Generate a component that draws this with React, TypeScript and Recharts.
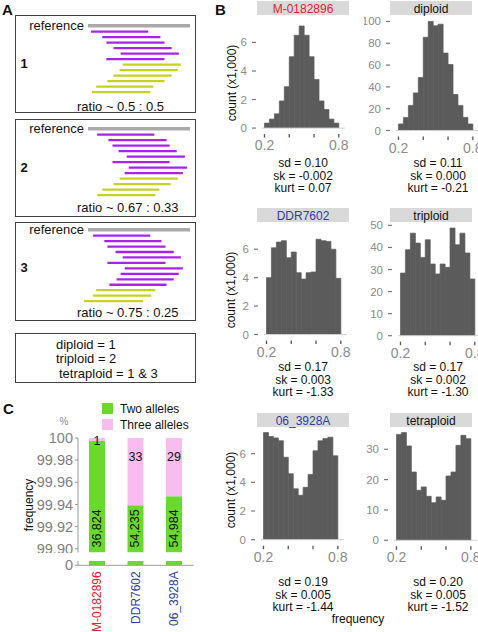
import React from "react";
import { BarChart, Bar, XAxis, YAxis, Cell, ReferenceLine, LabelList } from "recharts";

const FONT = '"Liberation Sans", Arial, Helvetica, sans-serif';

// ---- panel A: reads along the reference (reference = 0..100)
const REF_SPAN: [number, number] = [0, 100];
const READS1_ALT = [[3, 59], [14, 71], [18, 75], [25, 82], [32, 89], [18, 75]];
const READS1_REF = [[34, 91], [31, 88], [25, 82], [19, 75], [8, 64], [4, 61]];
const READS2_ALT = [[9, 65], [20, 77], [24, 80], [30, 87], [38, 95], [24, 80], [40, 97], [36, 93]];
const READS2_REF = [[31, 88], [25, 81], [14, 70], [9, 66]];
const READS3_ALT = [[5, 61], [16, 72], [19, 76], [27, 84], [34, 91], [19, 76], [36, 93], [32, 89], [28, 84], [21, 77]];
const READS3_REF = [[8, 66], [5, 62], [-4, 54]];
const RATIOS = ["ratio ~ 0.5 : 0.5", "ratio ~ 0.67 : 0.33", "ratio ~ 0.75 : 0.25"];
const PLOIDY = ["diploid = 1", "triploid = 2", "tetraploid = 1 & 3"];

// ---- panel B: histograms, 15 bins between 0.2 and 0.8
const BIN_CENTERS = [0.22, 0.26, 0.3, 0.34, 0.38, 0.42, 0.46, 0.5, 0.54, 0.58, 0.62, 0.66, 0.7, 0.74, 0.78];
const M0182896 = [0.35, 0.63, 1.0, 1.9, 2.9, 5.0, 6.5, 7.15, 6.5, 5.0, 3.4, 1.9, 1.3, 0.63, 0.35];
const DIPLOID = [6, 12, 23, 34.5, 48.5, 85.5, 100, 96, 97.5, 71, 60.5, 33, 23, 12, 6];
const DDR7602 = [4.0, 6.1, 6.5, 6.6, 5.4, 5.8, 4.35, 3.9, 4.35, 4.4, 6.7, 6.6, 6.55, 6.0, 3.95];
const TRIPLOID = [28.4, 39, 46.5, 42, 35.5, 43.5, 32.5, 28, 32.5, 31, 48.8, 41.2, 46.5, 37.5, 25.7];
const S06_3928A = [7.47, 7.2, 7.1, 6.9, 5.75, 4.6, 3.55, 3.1, 3.65, 4.55, 6.2, 6.9, 7.05, 7.15, 5.85];
const TETRAPLOID = [34.9, 35.5, 31.1, 22.5, 16.5, 17.6, 14.5, 12.4, 14.3, 13.2, 21.2, 22.5, 31.3, 34.6, 33.5];
const HIST_TITLES = ["M-0182896", "diploid", "DDR7602", "triploid", "06_3928A", "tetraploid"];
const TITLE_COLORS = ["#e3222e", "#111", "#2d3f9f", "#111", "#2d3f9f", "#111"];
const SD = ["0.10", "0.11", "0.17", "0.17", "0.19", "0.20"];
const SK = ["-0.002", "0.000", "0.003", "0.002", "0.005", "0.005"];
const KURT = ["0.07", "-0.21", "-1.33", "-1.30", "-1.44", "-1.52"];

// ---- panel C
const SAMPLES = ["M-0182896", "DDR7602", "06_3928A"];
const TWO_ALLELES = [36824, 54235, 54984];
const THREE_ALLELES = [1, 33, 29];
const SAMPLE_COLORS = ["#e3222e", "#2d3f9f", "#2d3f9f"];
const FREQ_TICKS = [99.9, 99.92, 99.94, 99.96, 99.98, 100];

const MAGENTA = "#a823ea";
const OLIVE = "#c6d21e";
const GREEN = "#6bd82e";
const PINK = "#f7bdef";
const HIST_FILL = "#5b5b5b";

function Txt({ x, y, children, size = 12, color = "#111", anchor = "middle", rotate = false, weight = 400 }: any) {
  const tx = anchor === "start" ? "0" : anchor === "end" ? "-100%" : "-50%";
  return (
    <div
      style={{
        position: "absolute",
        left: x,
        top: y,
        transform: `translate(${tx}, -50%)${rotate ? " rotate(-90deg)" : ""}`,
        fontSize: size,
        color,
        fontWeight: weight,
        whiteSpace: "nowrap",
        lineHeight: 1,
      }}
    >
      {children}
    </div>
  );
}

function Box({ x, y, w, h }: any) {
  return (
    <div
      style={{
        position: "absolute",
        left: x,
        top: y,
        width: w,
        height: h,
        border: "1.5px solid #404040",
        boxSizing: "border-box",
      }}
    />
  );
}

function ReadChart({ alt, refReads, top, band }: any) {
  const rows = [
    { id: "reference", span: null, kind: "ref" },
    ...alt.map((s: number[], i: number) => ({ id: `a${i}`, span: s, kind: "alt" })),
    ...refReads.map((s: number[], i: number) => ({ id: `r${i}`, span: s, kind: "ref" })),
  ];
  const h = rows.length * band;
  const padTop = 8;
  return (
    <div style={{ position: "absolute", left: 15, top: top - padTop }}>
      <BarChart
        width={185.2}
        height={h + padTop}
        data={rows}
        layout="vertical"
        margin={{ top: padTop, right: 0, bottom: 0, left: 62.8 }}
        barCategoryGap={0}
      >
        <XAxis type="number" domain={[-10, 110]} hide />
        <YAxis type="category" dataKey="id" hide />
        <ReferenceLine
          segment={[
            { x: REF_SPAN[0], y: "reference" },
            { x: REF_SPAN[1], y: "reference" },
          ]}
          stroke="#a9a9a9"
          strokeWidth={3.3}
          label={{ value: "reference", position: "left", offset: 4, fill: "#111", fontSize: 13 }}
        />
        <Bar dataKey="span" barSize={2.3} isAnimationActive={false}>
          {rows.map((r, i) => (
            <Cell key={i} fill={r.kind === "alt" ? MAGENTA : OLIVE} />
          ))}
        </Bar>
      </BarChart>
    </div>
  );
}

const FreqTick = (p: any) => {
  const { x, y, payload } = p;
  const v = payload.value;
  return (
    <g>
      <line x1={x} x2={x} y1={y + 6} y2={y + 9.5} stroke="#555" strokeWidth={1.3} />
      {(v === 0.2 || v === 0.8) && (
        <text x={x} y={y + 17} textAnchor="middle" dominantBaseline="central" fontSize={14} fill="#8a8a8a">
          {String(v)}
        </text>
      )}
    </g>
  );
};

const CountTick = (p: any) => {
  const { x, y, payload } = p;
  return (
    <g>
      <text x={x - 15} y={y} textAnchor="end" dominantBaseline="central" fontSize={11.5} fill="#8a8a8a">
        {payload.value}
      </text>
      <line x1={x - 10} x2={x - 6} y1={y} y2={y} stroke="#777" strokeWidth={1.2} />
    </g>
  );
};

function Hist({ counts, plotLeft, plotTop, zeroY, yMax, yTicks }: any) {
  const yAxisW = 32;
  const xAxisH = 28;
  const plotW = 83;
  const padTop = 7;
  const plotH = zeroY - plotTop;
  const data = BIN_CENTERS.map((f, i) => ({ f, count: counts[i] }));
  return (
    <div style={{ position: "absolute", left: plotLeft - yAxisW, top: plotTop - padTop }}>
      <BarChart
        width={yAxisW + plotW + 14}
        height={padTop + plotH + xAxisH}
        data={data}
        margin={{ top: padTop, right: 14, bottom: 0, left: 0 }}
        barCategoryGap={0}
        barGap={0}
      >
        <XAxis
          dataKey="f"
          type="number"
          domain={[0.18, 0.85]}
          ticks={[0.2, 0.4, 0.6, 0.8]}
          interval={0}
          height={xAxisH}
          axisLine={{ stroke: "#d0d0d0" }}
          tickLine={false}
          tickSize={0}
          tickMargin={0}
          tick={FreqTick}
          allowDataOverflow
        />
        <YAxis
          type="number"
          domain={[0, yMax]}
          ticks={yTicks}
          interval={0}
          width={yAxisW}
          axisLine={false}
          tickLine={false}
          tickSize={0}
          tickMargin={0}
          tick={CountTick}
          allowDataOverflow
        />
        <Bar
          dataKey="count"
          fill={HIST_FILL}
          stroke={HIST_FILL}
          strokeWidth={0.7}
          isAnimationActive={false}
        />
      </BarChart>
    </div>
  );
}

const HIST_DATA = [M0182896, DIPLOID, DDR7602, TRIPLOID, S06_3928A, TETRAPLOID];
const HIST_LAYOUT = [
  { plotLeft: 261.8, plotTop: 20.6, zeroY: 127.7, yMax: 7.5, yTicks: [0, 2, 4, 6] },
  { plotLeft: 395.8, plotTop: 15.5, zeroY: 130, yMax: 105, yTicks: [0, 20, 40, 60, 80, 100] },
  { plotLeft: 264.2, plotTop: 234.5, zeroY: 334, yMax: 7, yTicks: [0, 2, 4, 6] },
  { plotLeft: 397.5, plotTop: 221.3, zeroY: 336, yMax: 52, yTicks: [0, 10, 20, 30, 40, 50] },
  { plotLeft: 260.8, plotTop: 424.6, zeroY: 539.3, yMax: 8, yTicks: [0, 2, 4, 6] },
  { plotLeft: 393.5, plotTop: 424.7, zeroY: 540, yMax: 38, yTicks: [0, 10, 20, 30] },
];
const TITLE_ROWS = [1, 208, 413];
const STAT_ROWS = [163, 367, 582];
const COL_X = [257, 390];
const COL_W = [92, 82];
const STAT_X = [303, 438];

const UPPER_PLOT_H = 114.4;

function AlleleLabel(p: any) {
  const { x, width, value } = p;
  const cx = x + width / 2;
  const cy = 10 + UPPER_PLOT_H - 24;
  return (
    <text
      transform={`translate(${cx},${cy}) rotate(-90)`}
      textAnchor="middle"
      dominantBaseline="central"
      fontSize={12.5}
      fill="#111"
    >
      {value.toLocaleString("en-US")}
    </text>
  );
}

function ThreeLabel(p: any) {
  const { x, y, width, height, value } = p;
  return (
    <text
      x={x + width / 2}
      y={y + Math.min(19, Math.abs(height))}
      textAnchor="middle"
      dominantBaseline="central"
      fontSize={12.5}
      fill="#111"
    >
      {value}
    </text>
  );
}

const SampleTick = (p: any) => {
  const { x, y, payload, index } = p;
  return (
    <text
      transform={`translate(${x},${y + 6}) rotate(-90)`}
      textAnchor="end"
      dominantBaseline="central"
      fontSize={12}
      fill={SAMPLE_COLORS[index]}
    >
      {payload.value}
    </text>
  );
};

export default function App() {
  const alleleData = SAMPLES.map((name, i) => {
    const tot = TWO_ALLELES[i] + THREE_ALLELES[i];
    return {
      name,
      two: (TWO_ALLELES[i] / tot) * 100,
      three: (THREE_ALLELES[i] / tot) * 100,
      twoN: TWO_ALLELES[i],
      threeN: THREE_ALLELES[i],
    };
  });

  return (
    <div
      style={{
        position: "absolute",
        left: 0,
        top: 0,
        width: 478,
        height: 632,
        overflow: "hidden",
        background: "#fff",
        fontFamily: FONT,
        color: "#111",
      }}
    >
      {/* panel letters */}
      <Txt x={2} y={8.5} size={15} weight={700} anchor="start">A</Txt>
      <Txt x={215} y={8.5} size={15} weight={700} anchor="start">B</Txt>
      <Txt x={3} y={408} size={15} weight={700} anchor="start">C</Txt>

      {/* panel A */}
      <Box x={15} y={15} w={181} h={98} />
      <Box x={15} y={119} w={181} h={98} />
      <Box x={15} y={222} w={181} h={99} />
      <Box x={15} y={333} w={181} h={50} />
      <ReadChart alt={READS1_ALT} refReads={READS1_REF} top={23.25} band={5.5} />
      <ReadChart alt={READS2_ALT} refReads={READS2_REF} top={125.55} band={5.5} />
      <ReadChart alt={READS3_ALT} refReads={READS3_REF} top={227.27} band={5.46} />
      <Txt x={24} y={63} size={13} weight={700}>1</Txt>
      <Txt x={24} y={167} size={13} weight={700}>2</Txt>
      <Txt x={24} y={267} size={13} weight={700}>3</Txt>
      <Txt x={77} y={106} size={13} anchor="start">{RATIOS[0]}</Txt>
      <Txt x={77} y={207.3} size={13} anchor="start">{RATIOS[1]}</Txt>
      <Txt x={77} y={312.3} size={13} anchor="start">{RATIOS[2]}</Txt>
      <Txt x={56} y={344} size={13} anchor="start">{PLOIDY[0]}</Txt>
      <Txt x={56} y={358.3} size={13} anchor="start">{PLOIDY[1]}</Txt>
      <Txt x={59} y={372.7} size={13} anchor="start">{PLOIDY[2]}</Txt>

      {/* panel B */}
      {HIST_TITLES.map((t, i) => {
        const col = i % 2;
        const row = Math.floor(i / 2);
        return (
          <React.Fragment key={t}>
            <div
              style={{
                position: "absolute",
                left: COL_X[col],
                top: TITLE_ROWS[row],
                width: COL_W[col],
                height: 14,
                background: "#d9d9d9",
              }}
            />
            <Txt x={COL_X[col] + COL_W[col] / 2} y={TITLE_ROWS[row] + 7.5} size={12} color={TITLE_COLORS[i]}>
              {t}
            </Txt>
            <Txt x={STAT_X[col]} y={STAT_ROWS[row]} size={12}>{`sd = ${SD[i]}`}</Txt>
            <Txt x={STAT_X[col]} y={STAT_ROWS[row] + 12.5} size={12}>{`sk = ${SK[i]}`}</Txt>
            <Txt x={STAT_X[col]} y={STAT_ROWS[row] + 25} size={12}>{`kurt = ${KURT[i]}`}</Txt>
          </React.Fragment>
        );
      })}
      {HIST_DATA.map((d, i) => (
        <Hist key={i} counts={d} {...HIST_LAYOUT[i]} />
      ))}
      <Txt x={232} y={83} size={12} rotate>count (x1,000)</Txt>
      <Txt x={231} y={290} size={12} rotate>count (x1,000)</Txt>
      <Txt x={231} y={490} size={12} rotate>count (x1,000)</Txt>
      <Txt x={358} y={619} size={12}>frequency</Txt>

      {/* panel C */}
      <div style={{ position: "absolute", left: 102, top: 403, width: 11, height: 11, background: GREEN }} />
      <div style={{ position: "absolute", left: 102, top: 419, width: 11, height: 11, background: PINK }} />
      <Txt x={120} y={408.5} size={12} anchor="start">Two alleles</Txt>
      <Txt x={120} y={424.5} size={12} anchor="start">Three alleles</Txt>
      <Txt x={64} y={422} size={10} color="#888">%</Txt>
      <Txt x={29} y={505} size={12} rotate>frequency</Txt>

      <div style={{ position: "absolute", left: 17.75, top: 428.3 }}>
        <BarChart
          width={182.25}
          height={10 + UPPER_PLOT_H}
          data={alleleData}
          margin={{ top: 10, right: 6.75, bottom: 0, left: 0 }}
          barCategoryGap={0}
        >
          <XAxis dataKey="name" type="category" hide />
          <YAxis
            type="number"
            domain={[99.8967, 100]}
            ticks={FREQ_TICKS}
            interval={0}
            allowDataOverflow
            width={60}
            axisLine={{ stroke: "#9a9a9a" }}
            tickLine={{ stroke: "#9a9a9a" }}
            tickSize={3}
            tickMargin={2}
            tick={{ fill: "#808080", fontSize: 14.5 }}
            tickFormatter={(v: number) => (v === 100 ? "100" : v.toFixed(2))}
          />
          <Bar dataKey="two" stackId="a" fill={GREEN} barSize={16} isAnimationActive={false}>
            <LabelList dataKey="twoN" content={AlleleLabel} />
          </Bar>
          <Bar dataKey="three" stackId="a" fill={PINK} barSize={16} isAnimationActive={false}>
            <LabelList dataKey="threeN" content={ThreeLabel} />
          </Bar>
        </BarChart>
      </div>

      <div style={{ position: "absolute", left: 17.75, top: 554.7 }}>
        <BarChart
          width={182.25}
          height={6 + 4.3 + 72}
          data={alleleData}
          margin={{ top: 6, right: 6.75, bottom: 0, left: 0 }}
          barCategoryGap={0}
        >
          <XAxis
            dataKey="name"
            type="category"
            height={72}
            interval={0}
            axisLine={{ stroke: "#9a9a9a" }}
            tickLine={false}
            tickSize={0}
            tickMargin={0}
            tick={SampleTick}
          />
          <YAxis
            type="number"
            domain={[0, 1]}
            ticks={[0]}
            allowDataOverflow
            width={60}
            axisLine={{ stroke: "#9a9a9a" }}
            tickLine={{ stroke: "#9a9a9a" }}
            tickSize={3}
            tickMargin={2}
            tick={{ fill: "#808080", fontSize: 14.5 }}
          />
          <Bar dataKey="two" stackId="a" fill={GREEN} barSize={16} isAnimationActive={false} />
          <Bar dataKey="three" stackId="a" fill={PINK} barSize={16} isAnimationActive={false} />
        </BarChart>
      </div>
    </div>
  );
}
